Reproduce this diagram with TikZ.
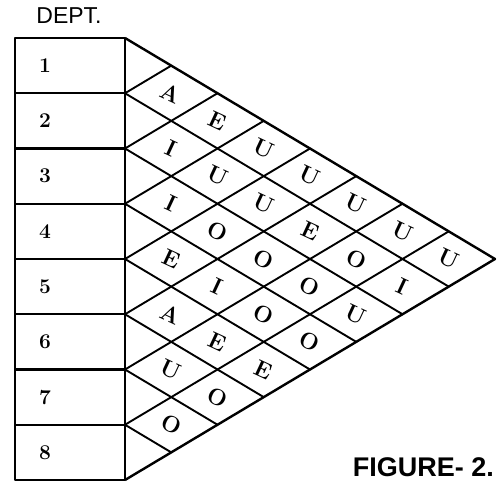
\documentclass[tikz,border=0pt]{standalone}
\usepackage{fontspec}
\newfontfamily\capfont{Liberation Sans}
\usetikzlibrary{positioning}

\begin{document}
\begin{tikzpicture}[x=1pt,y=-1pt,
	chart/.style={line width=2.4pt, line join=round},
	gridline/.style={line width=1.9pt, line cap=round},
	rating/.style={font=\bfseries\fontsize{23}{23}\selectfont, rotate=-25, inner sep=0pt},
	deptno/.style={font=\bfseries\fontsize{21}{21}\selectfont, inner sep=0pt}]
	\useasboundingbox (0,0) rectangle (498,484);
	
	%boundary points on the right side of the table
	\foreach \k in {0,...,8}
		\coordinate (b\k) at (125,{38+\k*55.25});
	\coordinate (apex) at (495,259);
	
	%department table
	\draw[chart] (15,38) rectangle (b8);
	\foreach \k in {1,...,7}
		\draw[chart] (15,{38+\k*55.25}) -- (b\k);
	\foreach \k in {1,...,8}
		\node[deptno] (d\k) at (45,{38+(\k-0.5)*55.25}) {\k};
	\node[font=\capfont\fontsize{23}{23}\selectfont, inner sep=0pt] (dept) at (69,16) {DEPT.};
	
	%diamond grid of the chart
	\draw[chart] (b0) -- (apex) -- (b8);
	\foreach \k in {1,...,7}{
		\draw[gridline] (b\k) -- ++({(8-\k)*46.25},{(8-\k)*27.625});
		\draw[gridline] (b\k) -- ++({\k*46.25},{-\k*27.625});
	}
	
	%closeness ratings, one row per department
	\foreach \i/\row in {1/{A,E,U,U,U,U,U},2/{I,U,U,E,O,I},3/{I,O,O,O,U},4/{E,I,O,O},5/{A,E,E},6/{U,O},7/{O}}
		\foreach \r [count=\n] in \row
			\node[rating] (c\i\n) at ({125+\n*46.25},{38+(2*\i+\n-1)*27.625}) {\r};
	
	\node[font=\capfont\bfseries\fontsize{27}{27}\selectfont, anchor=east, inner sep=0pt] (fig) at (494,467) {FIGURE- 2.};
\end{tikzpicture}
\end{document}
